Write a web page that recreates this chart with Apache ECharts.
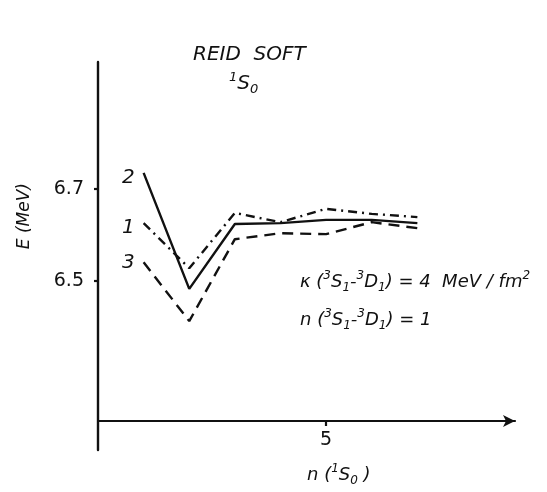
<!DOCTYPE html>
<html>
<head>
<meta charset="utf-8">
<script src="https://cdn.jsdelivr.net/npm/echarts@6/dist/echarts.min.js"></script>
<style>
  html, body { margin: 0; padding: 0; background: #fff; }
  #chart { width: 547px; height: 492px; }
</style>
</head>
<body>
<div id="chart"></div>
<script>
// datos
const nValues = [1, 2, 3, 4, 5, 6, 7];
const curve1 = [6.626, 6.528, 6.648, 6.628, 6.657, 6.646, 6.639]; // punto-raya
const curve2 = [6.735, 6.483, 6.624, 6.626, 6.633, 6.633, 6.626]; // continua
const curve3 = [6.541, 6.413, 6.591, 6.604, 6.602, 6.628, 6.615]; // rayas
const curveNames = ['1', '2', '3'];
const yTicks = [6.5, 6.7];
const xTicks = [5];

const font = 'DejaVu Sans';
const ink = '#111';

// estilos para texto con super/subindices
function richStyles(size, small) {
  const base = { fontFamily: font, fontStyle: 'italic', fontWeight: 'normal', color: ink };
  return {
    b: Object.assign({ fontSize: size }, base),
    sup: Object.assign({ fontSize: small, verticalAlign: 'top', padding: [0, 0, 10, 0] }, base),
    sub: Object.assign({ fontSize: small, verticalAlign: 'bottom', padding: [12, 0, 0, 0] }, base)
  };
}

function makeSeries(name, values, dash, offset) {
  return {
    name: name,
    type: 'line',
    symbol: 'circle',
    symbolSize: 0,
    showAllSymbol: true,
    itemStyle: { color: ink },
    lineStyle: { color: ink, width: 2.4, type: dash },
    data: values.map((v, i) => {
      const p = { value: [nValues[i], v] };
      if (i === 0) {
        p.label = {
          show: true,
          position: 'left',
          distance: 9,
          offset: offset,
          formatter: name,
          fontFamily: font,
          fontStyle: 'italic',
          fontSize: 20,
          color: ink
        };
      }
      return p;
    })
  };
}

const chart = echarts.init(document.getElementById('chart'));
chart.setOption({
  backgroundColor: '#fff',
  animation: false,
  grid: { left: 98, right: 32, top: 62, bottom: 42 },
  title: [
    {
      text: 'REID  SOFT',
      left: 188, top: 40,
      textStyle: { fontFamily: font, fontStyle: 'italic', fontWeight: 'normal', fontSize: 20, color: ink }
    },
    {
      text: '{sup|1}{b|S}{sub|0}',
      left: 224, top: 66,
      textStyle: { rich: richStyles(20, 13) }
    },
    {
      text: '{b|κ (}{sup|3}{b|S}{sub|1}{b|-}{sup|3}{b|D}{sub|1}{b|) = 4  MeV / fm}{sup|2}',
      left: 295, top: 265,
      textStyle: { rich: richStyles(18, 12) }
    },
    {
      text: '{b|n (}{sup|3}{b|S}{sub|1}{b|-}{sup|3}{b|D}{sub|1}{b|) = 1}',
      left: 295, top: 303,
      textStyle: { rich: richStyles(18, 12) }
    },
    {
      text: '{b|n (}{sup|1}{b|S}{sub|0}{b| )}',
      left: 302, top: 458,
      textStyle: { rich: richStyles(18, 12) }
    }
  ],
  graphic: [
    {
      type: 'text',
      left: 16, top: 183,
      rotation: Math.PI / 2,
      style: { text: 'E (MeV)', fontFamily: font, fontStyle: 'italic', fontSize: 17, fill: ink }
    }
  ],
  xAxis: {
    type: 'value',
    min: 0,
    max: 9.14,
    offset: -29,
    splitLine: { show: false },
    axisLine: {
      show: true,
      symbol: ['none', 'arrow'],
      symbolSize: [9, 12],
      lineStyle: { color: ink, width: 2.2 }
    },
    axisTick: { show: true, customValues: xTicks, length: 5, inside: false, lineStyle: { color: ink, width: 2.2 } },
    axisLabel: { customValues: xTicks, margin: 10, fontFamily: font, fontSize: 19, color: ink }
  },
  yAxis: {
    type: 'value',
    min: 6.133,
    max: 6.976,
    splitLine: { show: false },
    axisLine: { show: true, lineStyle: { color: ink, width: 2.4 } },
    axisTick: { show: true, customValues: yTicks, length: 4, lineStyle: { color: ink, width: 2.2 } },
    axisLabel: {
      customValues: yTicks,
      margin: 14,
      fontFamily: font,
      fontSize: 19,
      color: ink,
      formatter: v => v.toFixed(1)
    }
  },
  series: [
    makeSeries(curveNames[0], curve1, [9, 5, 2, 5], [0, 5]),
    makeSeries(curveNames[1], curve2, 'solid', [0, 5]),
    makeSeries(curveNames[2], curve3, [11, 7], [0, 1])
  ]
});
</script>
</body>
</html>
